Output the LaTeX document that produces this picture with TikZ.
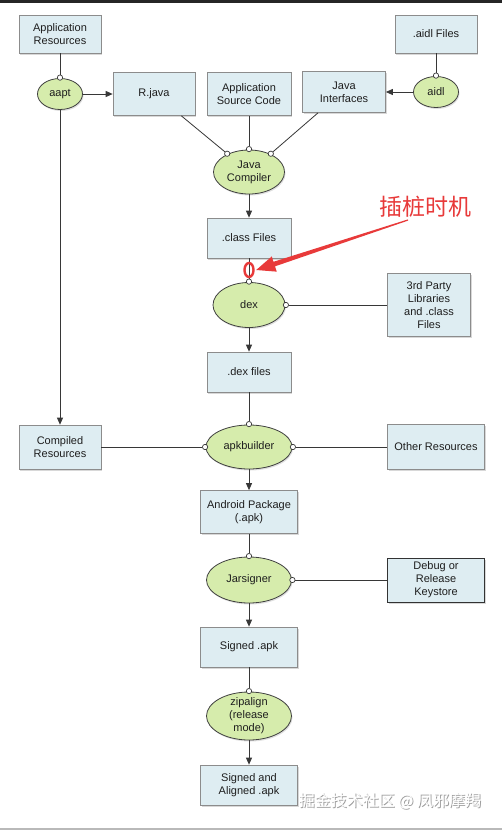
\documentclass[tikz,border=0pt]{standalone}
\usepackage{fontspec}
\setmainfont{Liberation Sans}
\newfontfamily\cjk{Noto Sans CJK SC}
\usetikzlibrary{shapes.geometric,arrows.meta,shadows,calc}
\definecolor{boxfill}{RGB}{222,237,242}
\definecolor{ellfill}{RGB}{214,236,172}
\definecolor{boxline}{RGB}{140,140,140}
\definecolor{conn}{RGB}{55,55,55}
\definecolor{annot}{RGB}{232,58,58}
\definecolor{txt}{RGB}{30,30,30}
\begin{document}
\begin{tikzpicture}[x=1pt,y=-1pt,
  every node/.style={font=\fontsize{11}{13}\selectfont, text=txt, align=center, inner sep=0pt},
  filebox/.style={rectangle, draw=boxline, line width=0.7pt, fill=boxfill,
    drop shadow={shadow xshift=1.2pt, shadow yshift=-1.8pt, opacity=0.3}},
  tool/.style={ellipse, draw=black!75, line width=0.8pt, fill=ellfill,
    drop shadow={shadow xshift=1pt, shadow yshift=-1.5pt, opacity=0.25}},
  feed/.style={draw=conn, line width=0.8pt, -{Circle[length=6pt, fill=white, line width=0.7pt]}, shorten >=-2.5pt},
  flow/.style={draw=conn, line width=0.8pt, -{Triangle[length=7pt,width=6pt]}},
]
\useasboundingbox (0,0) rectangle (502,830);
\fill[white] (0,0) rectangle (502,830);
\fill[black!85] (0,0) rectangle (502,2.5);
\fill[gray!55] (0,827.5) rectangle (502,829.5);

% nodes
\node[filebox, minimum width=82pt, minimum height=38pt] (appres) at (60,34) {Application\\Resources};
\node[tool, minimum width=45pt, minimum height=31pt] (aapt) at (60,94) {aapt};
\node[filebox, minimum width=82pt, minimum height=43pt] (rjava) at (154,94) {R.java};
\node[filebox, minimum width=84pt, minimum height=43pt] (appsrc) at (249,94) {Application\\Source Code};
\node[filebox, minimum width=83pt, minimum height=41pt] (javaif) at (344,92) {Java\\Interfaces};
\node[filebox, minimum width=82pt, minimum height=38pt] (aidlf) at (436,34) {.aidl Files};
\node[tool, minimum width=45pt, minimum height=31pt] (aidl) at (436,92) {aidl};
\node[tool, minimum width=71pt, minimum height=44pt] (jc) at (249,172) {Java\\Compiler};
\node[filebox, minimum width=84pt, minimum height=40pt] (classf) at (249,238) {.class Files};
\node[tool, minimum width=72pt, minimum height=45pt] (dex) at (249,305) {dex};
\node[filebox, minimum width=83pt, minimum height=63pt] (third) at (429,305) {3rd Party\\Libraries\\and .class\\Files};
\node[filebox, minimum width=84pt, minimum height=40pt] (dexf) at (249,372) {.dex files};
\node[filebox, minimum width=82pt, minimum height=44pt] (compres) at (60,447) {Compiled\\Resources};
\node[tool, minimum width=86pt, minimum height=44pt] (apkb) at (249,447) {apkbuilder};
\node[filebox, minimum width=97pt, minimum height=45pt] (other) at (436,447) {Other Resources};
\node[filebox, minimum width=97pt, minimum height=43pt] (apk) at (249,512) {Android Package\\(.apk)};
\node[tool, minimum width=85pt, minimum height=46pt] (jar) at (249,580) {Jarsigner};
\node[filebox, draw=black!80, minimum width=97pt, minimum height=44pt] (keys) at (436,580) {Debug or\\Release\\Keystore};
\node[filebox, minimum width=97pt, minimum height=40pt] (signed) at (249,647) {Signed .apk};
\node[tool, minimum width=85pt, minimum height=48pt, label=center:{zipalign\\(release\\mode)}] (zip) at (249,716) {};
\node[filebox, minimum width=97pt, minimum height=40pt] (aligned) at (249,785) {Signed and\\Aligned .apk};

% connectors
\draw[feed] (appres) -- (aapt);
\draw[flow] (aapt) -- (rjava);
\draw[flow] (aapt) -- (compres);
\draw[feed] (aidlf) -- (aidl);
\draw[flow] (aidl) -- (javaif);
\draw[feed] ([xshift=-14pt]rjava.south east) -- (jc.140);
\draw[feed] (appsrc) -- (jc);
\draw[feed] ([xshift=-26pt]javaif.south) -- (jc.40);
\draw[flow] (jc) -- (classf);
\draw[feed] (classf) -- (dex);
\draw[feed] (third) -- (dex);
\draw[flow] (dex) -- (dexf);
\draw[feed] (dexf) -- (apkb);
\draw[feed] (compres) -- (apkb);
\draw[feed] (other) -- (apkb);
\draw[flow] (apkb) -- (apk);
\draw[feed] (apk) -- (jar);
\draw[feed] (keys) -- (jar);
\draw[flow] (jar) -- (signed);
\draw[feed] (signed) -- (zip);
\draw[flow] (zip) -- (aligned);

% annotation
\node[ellipse, draw=annot, line width=2.4pt, minimum width=9pt, minimum height=14pt] (hl) at (249,270) {};
\node[font=\cjk\fontsize{23}{23}\selectfont, text=annot] (note) at (425,207) {插桩时机};
\coordinate (rs) at (408,220);
\coordinate (rt) at ([xshift=1.5pt]hl.east);
\coordinate (hb) at ($(rt)!19pt!(rs)$);
\fill[annot] ($(rs)!0.6pt!90:(rt)$) -- ($(hb)!2.4pt!90:(rt)$) -- ($(hb)!8pt!90:(rt)$) -- (rt)
  -- ($(hb)!8pt!-90:(rt)$) -- ($(hb)!2.4pt!-90:(rt)$) -- ($(rs)!0.6pt!-90:(rt)$) -- cycle;

% watermark
\node[font=\cjk\fontsize{16}{16}\selectfont, text=gray!75] (wmshadow) at (391,802) {掘金技术社区 @ 凤邪摩羯};
\node[font=\cjk\fontsize{16}{16}\selectfont, text=white] (wm) at (390,801) {掘金技术社区 @ 凤邪摩羯};
\end{tikzpicture}
\end{document}
